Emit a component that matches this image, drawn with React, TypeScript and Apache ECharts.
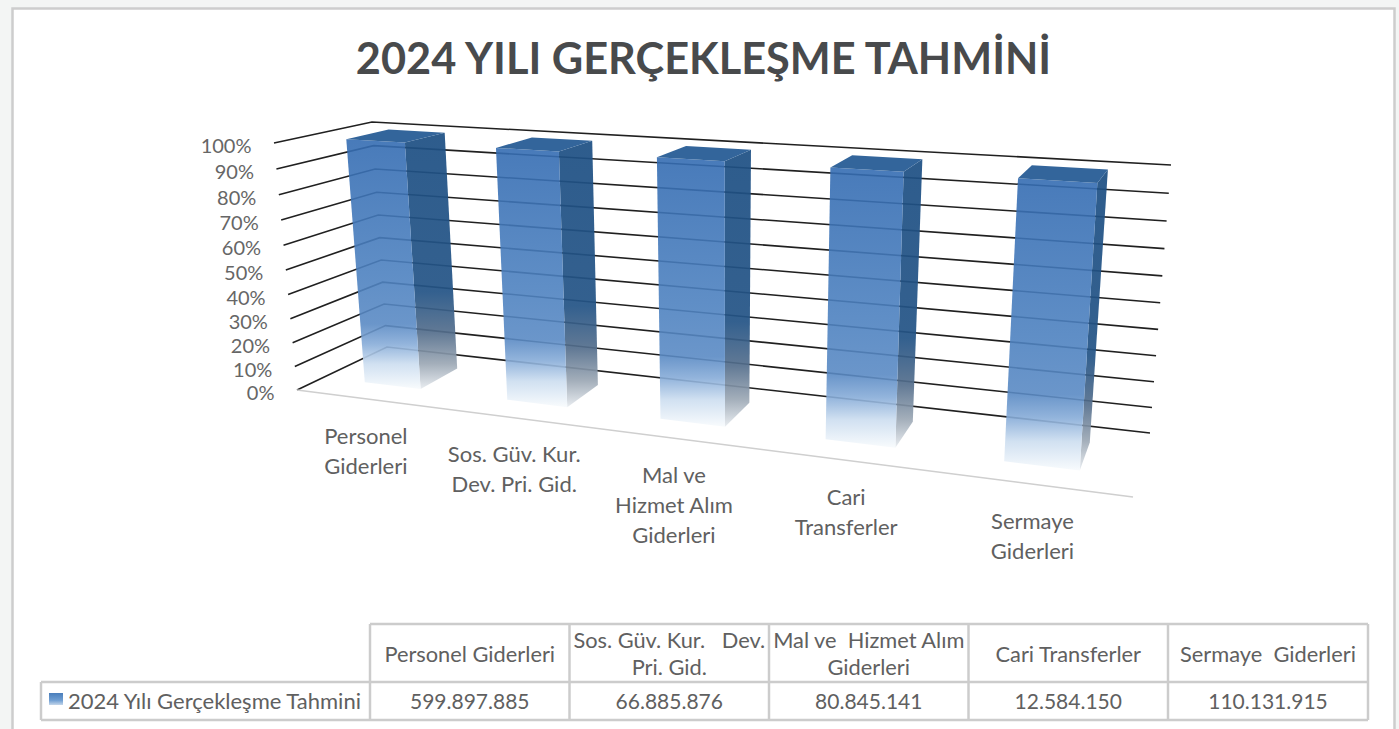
import React, { useEffect, useRef } from "react";
import * as echarts from "echarts";

const chartTitle = "2024 YILI GERÇEKLEŞME TAHMİNİ";
const seriesName = "2024 Yılı Gerçekleşme Tahmini";
const categories = ["Personel Giderleri", "Sos. Güv. Kur. Dev. Pri. Gid.", "Mal ve Hizmet Alım Giderleri", "Cari Transferler", "Sermaye Giderleri"];
const axisLabels = ["Personel\nGiderleri", "Sos. Güv. Kur.\nDev. Pri. Gid.", "Mal ve\nHizmet Alım\nGiderleri", "Cari\nTransferler", "Sermaye\nGiderleri"];
const shareValues = [100, 100, 100, 100, 100];
const valueTicks = [0, 10, 20, 30, 40, 50, 60, 70, 80, 90, 100];
const tableHeaders = ["Personel Giderleri", "Sos. Güv. Kur.   Dev.\nPri. Gid.", "Mal ve  Hizmet Alım\nGiderleri", "Cari Transferler", "Sermaye  Giderleri"];
const tableValues = ["599.897.885", "66.885.876", "80.845.141", "12.584.150", "110.131.915"];

const FONT = "Lato, Carlito, sans-serif";
const TEXT = "#606060";
type Pt = [number, number];

// Corners of the drawn box: f = front, b = back, l/r = left/right, 0/1 = floor/top
const box = {
  fl0: [297, 390], fl1: [274, 143], fr0: [1133, 497], fr1: [1153.4, 195.7],
  bl0: [387, 347], bl1: [372, 122], br0: [1150, 433], br1: [1171, 165],
} as Record<string, Pt>;
const warpU = (u: number) => (0.827 * u) / (1 - 0.173 * u);
const warpW = (w: number) => (0.945 * w) / (1 - 0.055 * w);
const mix = (a: Pt, b: Pt, t: number): Pt => [a[0] + (b[0] - a[0]) * t, a[1] + (b[1] - a[1]) * t];
function project(u: number, d: number, w: number): Pt {
  const uu = warpU(u), ww = warpW(w);
  const bottom = mix(mix(box.fl0, box.bl0, d), mix(box.fr0, box.br0, d), uu);
  const top = mix(mix(box.fl1, box.bl1, d), mix(box.fr1, box.br1, d), uu);
  return mix(bottom, top, ww);
}
const grad = (stops: [number, string][]) =>
  new echarts.graphic.LinearGradient(0, 0, 0, 1, stops.map(([offset, color]) => ({ offset, color })));

const frontFill = () => grad([[0, "rgba(52,108,178,0.9)"], [0.55, "rgba(78,130,192,0.9)"], [0.74, "rgba(90,138,196,0.9)"], [0.82, "rgba(135,172,216,0.9)"], [0.9, "rgba(205,222,240,0.92)"], [1, "rgba(248,251,253,0.95)"]]);
const sideFill = () => grad([[0, "rgba(30,80,132,0.93)"], [0.62, "rgba(36,84,134,0.93)"], [0.78, "rgba(84,110,140,0.92)"], [0.9, "rgba(155,167,180,0.92)"], [1, "rgba(232,236,240,0.95)"]]);

function normalizer(params: any, api: any) {
  const cs = params.coordSys;
  return (cat: number, val: number): [number, number] => {
    const [x, y] = api.coord([cat, val]);
    return [(x - cs.x) / cs.width, (cs.y + cs.height - y) / cs.height];
  };
}

function renderWalls(params: any, api: any) {
  const norm = normalizer(params, api);
  const val = api.value(0);
  const [, w] = norm(0, val);
  const children: any[] = [{
    type: "polyline",
    shape: { points: [project(0, 0, w), project(0, 1, w), project(1, 1, w)] },
    style: { stroke: "#202020", lineWidth: 1.6, fill: "none" },
  }];
  const start = project(0, 0, w);
  children.push({
    type: "text", x: start[0] - 22.5, y: start[1] + 2,
    style: { text: `${val}%`, font: `400 20px ${FONT}`, fill: "#666666", align: "right", verticalAlign: "middle" },
  });
  if (val === 0) {
    children.push({
      type: "polyline",
      shape: { points: [project(0, 0, 0), project(1, 0, 0)] },
      style: { stroke: "#cfcfcf", lineWidth: 1.5, fill: "none" },
    });
  }
  return { type: "group", children };
}

function renderBar(params: any, api: any) {
  const norm = normalizer(params, api);
  const cat = api.value(0);
  const [uc, w] = norm(cat, api.value(1));
  const half = (api.size([1, 0])[0] * 0.2) / params.coordSys.width;
  const uL = uc - half, uR = uc + half, d0 = 0.3, d1 = 0.75;
  const poly = (points: Pt[], fill: any) => ({ type: "polygon", shape: { points }, style: { fill } });
  return {
    type: "group",
    children: [
      poly([project(uR, d0, w), project(uR, d1, w), project(uR, d1, 0), project(uR, d0, 0)], sideFill()),
      poly([project(uL, d0, w), project(uR, d0, w), project(uR, d0, 0), project(uL, d0, 0)], frontFill()),
      poly([project(uL, d0, w), project(uL, d1, w), project(uR, d1, w), project(uR, d0, w)], "#33659B"),
    ],
  };
}

function renderCategoryLabel(params: any, api: any) {
  const norm = normalizer(params, api);
  const cat = api.value(0);
  const [uc] = norm(cat, 0);
  const p = project(uc, 0, 0);
  return {
    type: "text", x: p[0] - 1.5, y: p[1] + 21,
    style: { text: axisLabels[cat], font: `400 22px ${FONT}`, lineHeight: 30, fill: TEXT, align: "center", verticalAlign: "top" },
  };
}

function tableGraphics() {
  const xs = [370, 569.5, 769, 968.5, 1168, 1368];
  const top = 624, mid = 682, bot = 720, left = 41;
  const line = (x1: number, y1: number, x2: number, y2: number) => ({
    type: "line", shape: { x1, y1, x2, y2 }, style: { stroke: "#cccccc", lineWidth: 2.5 },
  });
  const els: any[] = [
    line(xs[0], top, xs[5], top), line(left, mid, xs[5], mid), line(left, bot, xs[5], bot),
    line(left, mid, left, bot), ...xs.map((x) => line(x, top, x, bot)),
  ];
  tableHeaders.forEach((h, i) => {
    els.push({ type: "text", x: (xs[i] + xs[i + 1]) / 2, y: (top + mid) / 2, style: { text: h, font: `400 21.8px ${FONT}`, lineHeight: 27, fill: TEXT, align: "center", verticalAlign: "middle" } });
    els.push({ type: "text", x: (xs[i] + xs[i + 1]) / 2, y: (mid + bot) / 2 - 1, style: { text: tableValues[i], font: `400 21px ${FONT}`, fill: TEXT, align: "center", verticalAlign: "middle" } });
  });
  els.push({ type: "rect", shape: { x: 49, y: 693, width: 14, height: 12 }, style: { fill: grad([[0, "#4A7EBB"], [0.6, "#6f9ed2"], [1, "#c4d6ea"]]) } });
  els.push({ type: "text", x: 68, y: (mid + bot) / 2 - 1, style: { text: seriesName, font: `400 22px ${FONT}`, fill: TEXT, align: "left", verticalAlign: "middle" } });
  return els;
}

export default function App() {
  const ref = useRef<HTMLDivElement>(null);
  useEffect(() => {
    const chart = echarts.init(ref.current!, undefined, { renderer: "svg" });
    chart.setOption({
      animation: false,
      backgroundColor: "#F3F5F4",
      title: {
        text: chartTitle, left: 698.5, top: 52, textAlign: "center", textVerticalAlign: "middle",
        textStyle: { fontFamily: FONT, fontWeight: 700, fontSize: 43.3, color: "#484a4c" },
      },
      grid: { left: 300, right: 300, top: 140, bottom: 300 },
      xAxis: { type: "category", data: categories, show: false },
      yAxis: { type: "value", min: 0, max: 100, interval: 10, show: false },
      graphic: {
        elements: [
          { type: "rect", z: -10, shape: { x: 12.5, y: 8.5, width: 1382, height: 730 }, style: { fill: "#fff", stroke: "#cdcdcd", lineWidth: 2.5 } },
          ...tableGraphics(),
        ],
      },
      series: [
        { type: "custom", name: "ticks", z: 1, silent: true, data: valueTicks.map((v) => [v]), renderItem: renderWalls, encode: { y: 0 } },
        { type: "custom", name: seriesName, z: 2, silent: true, data: shareValues.map((v, i) => [i, v]), renderItem: renderBar, encode: { x: 0, y: 1 } },
        { type: "custom", name: "labels", z: 3, silent: true, data: categories.map((_, i) => [i, 0]), renderItem: renderCategoryLabel, encode: { x: 0, y: 1 } },
      ],
    });
    return () => chart.dispose();
  }, []);
  return <div ref={ref} style={{ position: "fixed", left: 0, top: 0, width: 1399, height: 729 }} />;
}
